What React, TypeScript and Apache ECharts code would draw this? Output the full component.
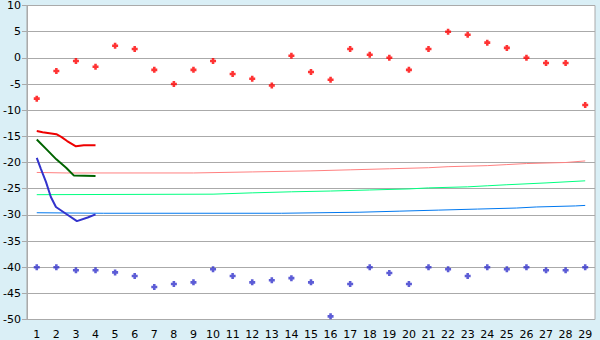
import React, { useEffect, useRef } from "react";
import * as echarts from "echarts";

const categories = Array.from({ length: 29 }, (_, i) => String(i + 1));

const redPoints = [-7.8, -2.5, -0.6, -1.7, 2.3, 1.7, -2.3, -5.0, -2.3, -0.6, -3.1, -4.0, -5.3, 0.4, -2.7, -4.2, 1.7, 0.6, 0.0, -2.3, 1.7, 5.0, 4.4, 2.9, 1.9, 0.0, -1.0, -1.0, -9.0];
const bluePoints = [-40, -40, -40.6, -40.6, -41.0, -41.7, -43.8, -43.2, -42.9, -40.4, -41.7, -42.9, -42.5, -42.1, -42.9, -49.4, -43.2, -40, -41.1, -43.2, -40, -40.4, -41.7, -40, -40.4, -40, -40.6, -40.6, -40];

const redLine = [[1, -14.0], [1.3, -14.2], [2, -14.6], [2.25, -15.1], [2.55, -15.9], [3.0, -16.9], [3.4, -16.7], [4, -16.7]];
const greenLine = [[1, -15.6], [1.5, -17.5], [2, -19.4], [2.5, -21.0], [2.9, -22.5], [4, -22.6]];
const blueLine = [[1, -19.1], [1.21, -21.2], [1.47, -23.7], [1.72, -26.6], [1.98, -28.5], [2.49, -29.8], [3.05, -31.2], [3.6, -30.5], [4, -29.9]];

const pinkLine = [[1, -21.9], [2.5, -22.0], [9, -22.0], [12, -21.8], [15, -21.6], [17, -21.4], [19, -21.2], [21, -21.0], [22, -20.8], [24, -20.6], [25, -20.4], [26, -20.2], [28, -20.0], [29, -19.7]];
const springLine = [[1, -26.15], [10, -26.05], [12, -25.8], [14, -25.6], [16, -25.45], [18, -25.25], [20, -25.05], [21, -24.85], [23, -24.65], [24, -24.45], [25, -24.25], [27, -23.9], [29, -23.5]];
const azureLine = [[1, -29.6], [4.4, -29.7], [13.5, -29.7], [17.5, -29.5], [19.5, -29.3], [21.5, -29.1], [23.5, -28.9], [25.5, -28.7], [26.5, -28.5], [28.5, -28.3], [29, -28.2]];

const yMin = -50;
const yMax = 10;
const yStep = 5;

const marker = "path://M2,0H5V2H7V5H5V7H2V5H0V2H2Z";

export default function App() {
  const ref = useRef<HTMLDivElement>(null);
  useEffect(() => {
    if (!ref.current) return;
    const chart = echarts.init(ref.current, undefined, { renderer: "svg" });
    const font = { fontFamily: "DejaVu Sans", fontSize: 11, color: "#000" };
    chart.setOption({
      animation: false,
      backgroundColor: "#daeff6",
      grid: {
        left: 26,
        right: 5,
        top: 5,
        bottom: 20.5,
        show: true,
        backgroundColor: "#ffffff",
        borderColor: "#aaaaaa",
        borderWidth: 1,
      },
      xAxis: [
        {
          type: "category",
          data: categories,
          boundaryGap: true,
          axisLine: { lineStyle: { color: "#aaaaaa", width: 1 } },
          axisTick: { alignWithLabel: true, length: 6, lineStyle: { color: "#000" } },
          axisLabel: { ...font, margin: 9, interval: 0 },
          splitLine: { show: false },
        },
        {
          type: "value",
          min: 0.5,
          max: 29.5,
          show: false,
          splitLine: { show: false },
        },
      ],
      yAxis: {
        type: "value",
        min: yMin,
        max: yMax,
        interval: yStep,
        axisLine: { show: true, lineStyle: { color: "#aaaaaa" } },
        axisTick: { show: true, length: 5, lineStyle: { color: "#aaaaaa" } },
        axisLabel: { ...font, margin: 6 },
        splitLine: { lineStyle: { color: "#aaaaaa", width: 1 } },
      },
      series: [
        { type: "line", xAxisIndex: 1, data: pinkLine, symbol: "none", lineStyle: { color: "#ff8080", width: 1 } },
        { type: "line", xAxisIndex: 1, data: springLine, symbol: "none", lineStyle: { color: "#00ff80", width: 1 } },
        { type: "line", xAxisIndex: 1, data: azureLine, symbol: "none", lineStyle: { color: "#0078f0", width: 1 } },
        { type: "line", xAxisIndex: 1, data: redLine, symbol: "none", lineStyle: { color: "#ee0000", width: 2 } },
        { type: "line", xAxisIndex: 1, data: greenLine, symbol: "none", lineStyle: { color: "#006400", width: 2 } },
        { type: "line", xAxisIndex: 1, data: blueLine, symbol: "none", lineStyle: { color: "#3333cc", width: 2 } },
        { type: "scatter", xAxisIndex: 0, data: redPoints, symbol: marker, symbolSize: 6, itemStyle: { color: "#ff0000" } },
        { type: "scatter", xAxisIndex: 0, data: bluePoints, symbol: marker, symbolSize: 6, itemStyle: { color: "#3333cc" } },
      ],
    });
    return () => chart.dispose();
  }, []);
  return <div ref={ref} style={{ position: "fixed", left: 0, top: 0, width: 600, height: 340 }} />;
}
